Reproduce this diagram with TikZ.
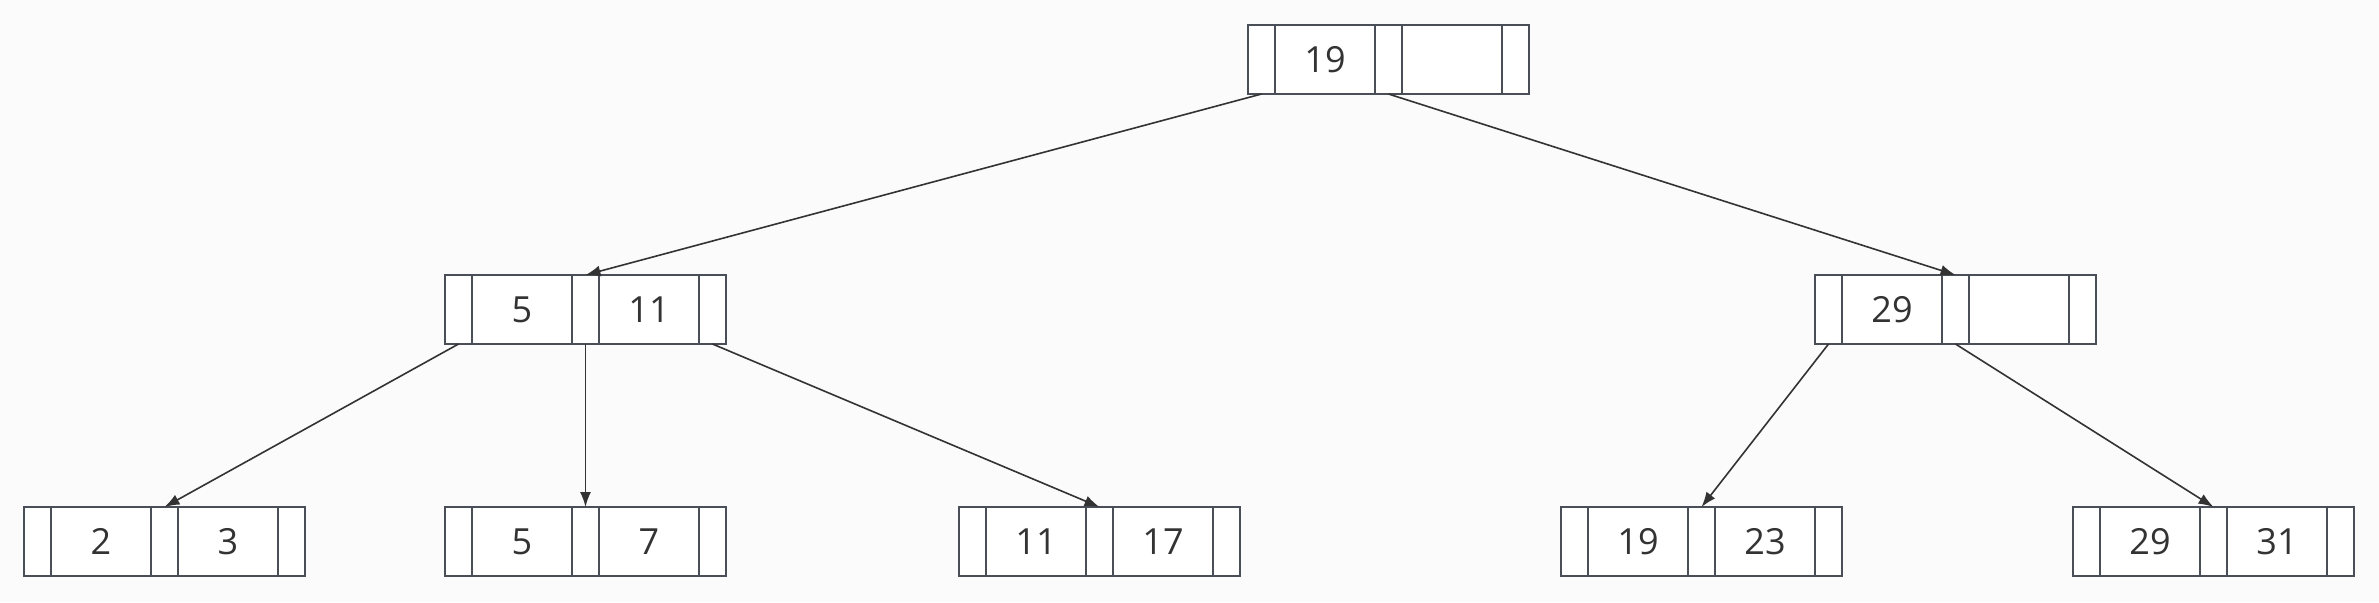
\documentclass[tikz,border=0pt]{standalone}
\usepackage{fontspec}
\setmainfont{Open Sans}
\usepackage{tikz}
\usetikzlibrary{positioning,arrows.meta}
\definecolor{boxline}{RGB}{74,79,87}
\definecolor{linkline}{RGB}{51,51,51}
\definecolor{paper}{RGB}{251,251,251}

\begin{document}
\begin{tikzpicture}[x=0.5pt,y=-0.5pt,
        cell/.style={draw=boxline,fill=white,line width=1pt,outer sep=0pt,inner sep=0pt,minimum height=34.5pt},
        ptr/.style={cell,minimum width=13.5pt},
        key/.style={cell,minimum width=50pt,font=\fontsize{18}{22}\selectfont,text=linkline},
        link/.style={draw=linkline,line width=0.8pt,-{Latex[length=7.5pt,width=5.5pt]}}]
            \fill[paper] (0,0) rectangle (2379,602);
            \useasboundingbox (0,0) rectangle (2379,602);
            
            \foreach \n/\x/\y/\a/\b in {r/1248/25/19/,a/445/275/5/11,b/1815/275/29/,
                    c/24/507/2/3,d/445/507/5/7,e/959/507/11/17,f/1561/507/19/23,g/2073/507/29/31}{
                \node[ptr,anchor=north west] (\n0) at (\x,\y) {};
                \node[key,right=0pt of \n0] (\n1) {\a};
                \node[ptr,right=0pt of \n1] (\n2) {};
                \node[key,right=0pt of \n2] (\n3) {\b};
                \node[ptr,right=0pt of \n3] (\n4) {};
            }
            
            \draw[link] (r0.south) -- (a2.north);
            \draw[link] (r2.south) -- (b2.north);
            \draw[link] (a0.south) -- (c2.north);
            \draw[link] (a2.south) -- (d2.north);
            \draw[link] (a4.south) -- (e2.north);
            \draw[link] (b0.south) -- (f2.north);
            \draw[link] (b2.south) -- (g2.north);
            
        \end{tikzpicture}
\end{document}
